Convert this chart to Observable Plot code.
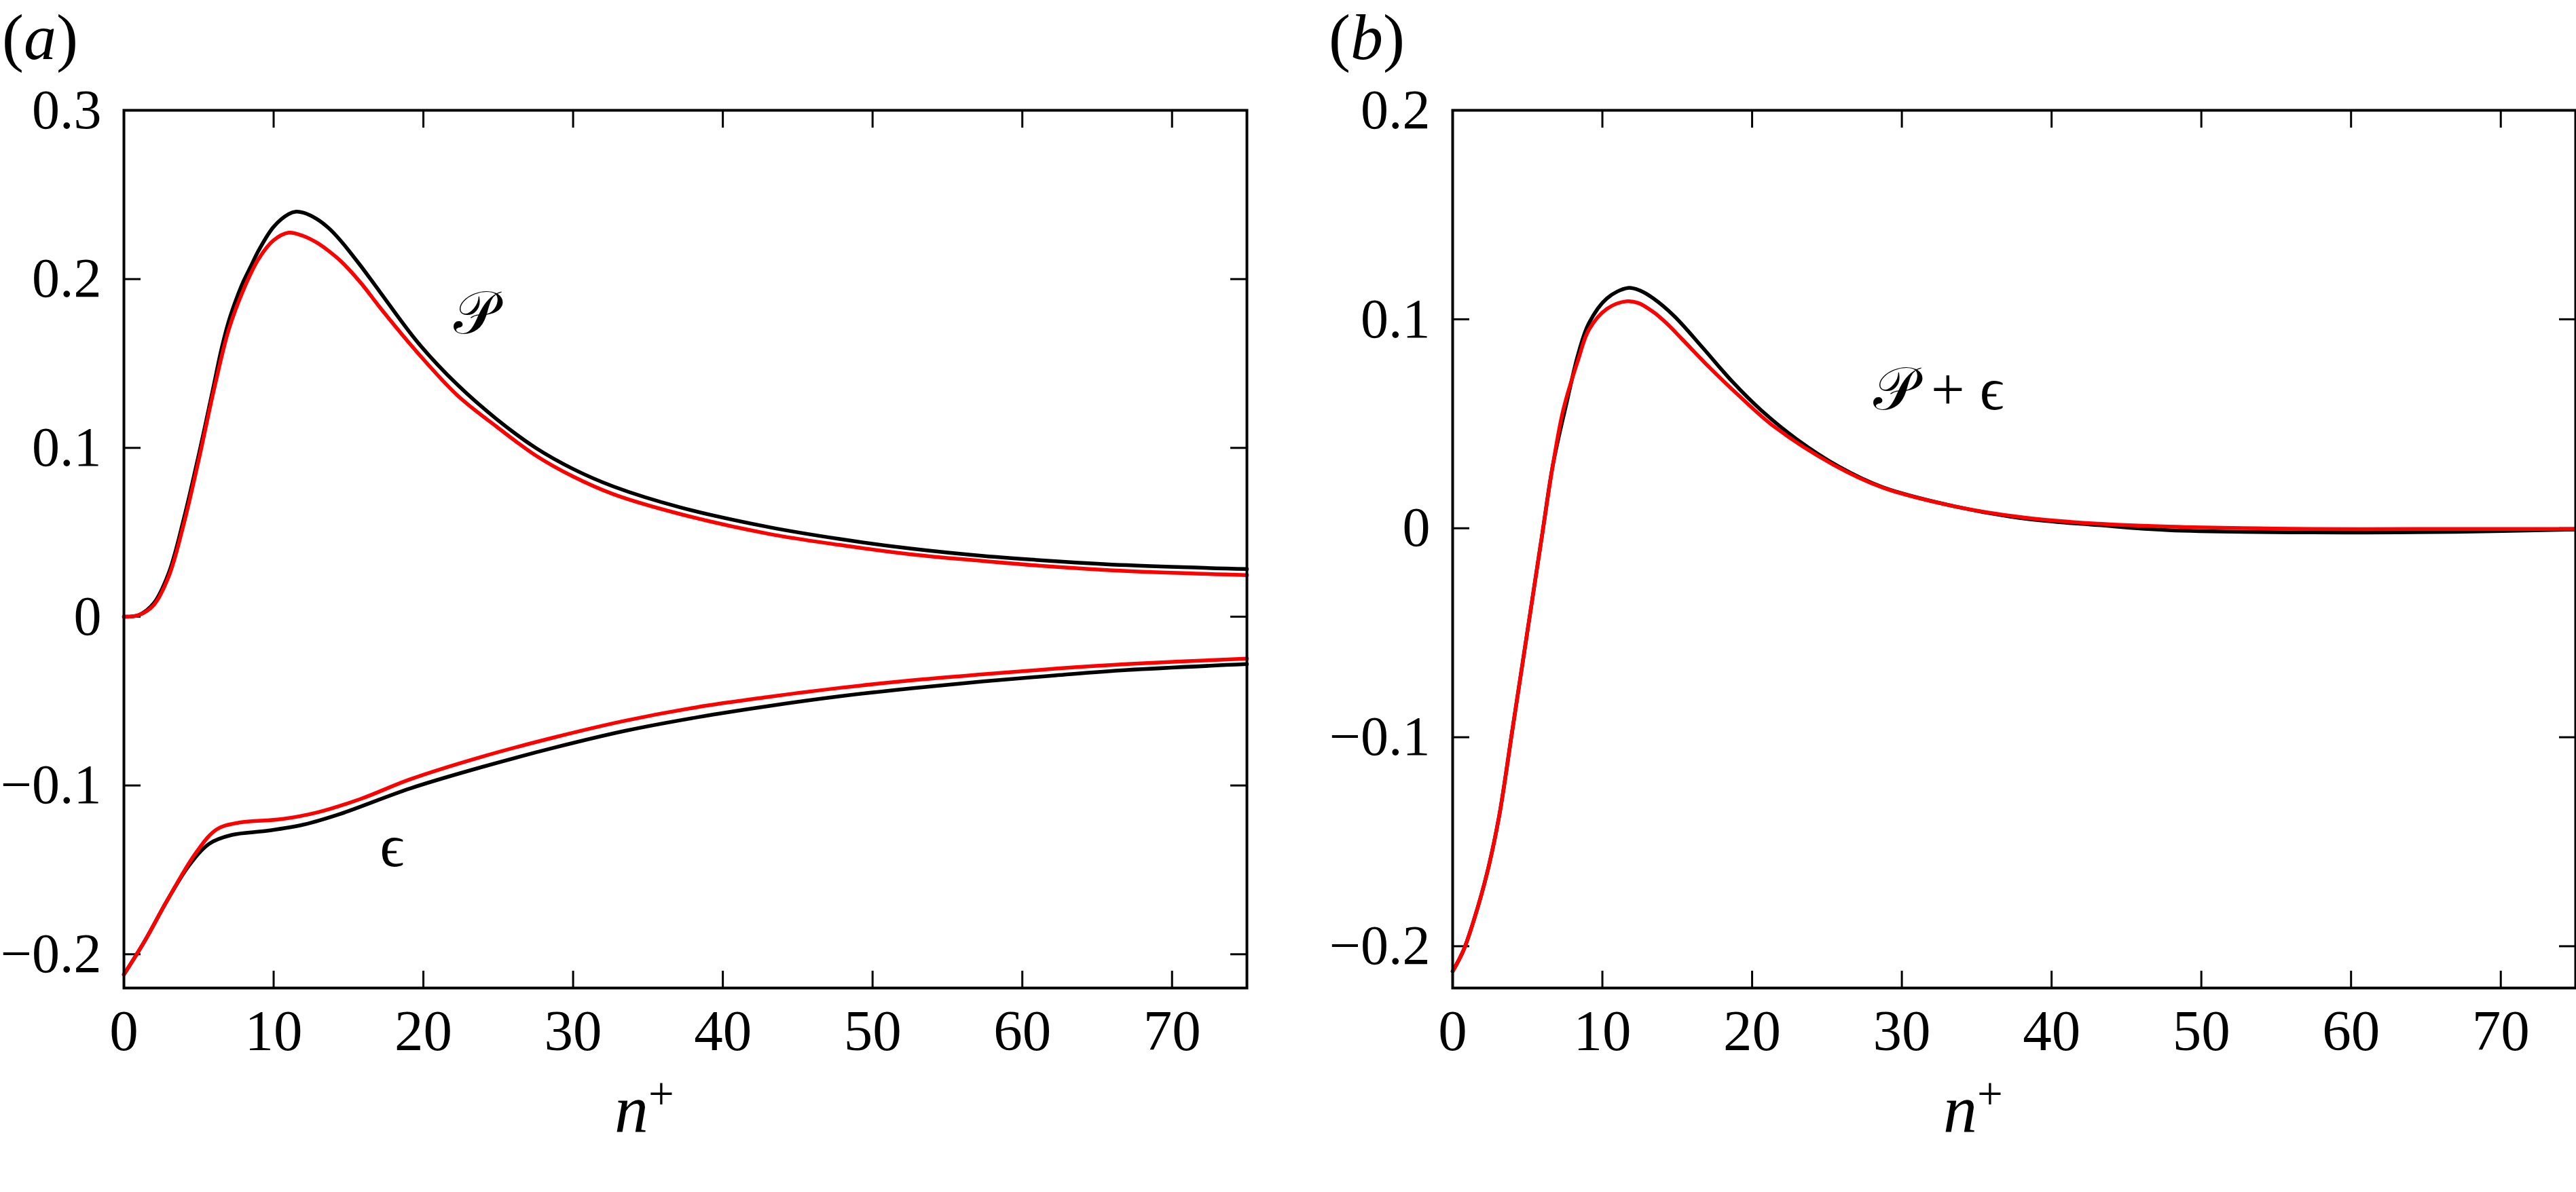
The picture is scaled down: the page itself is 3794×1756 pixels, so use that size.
<!DOCTYPE html>
<html>
<head>
<meta charset="utf-8">
<script src="https://cdn.jsdelivr.net/npm/d3@7"></script>
<script src="https://cdn.jsdelivr.net/npm/@observablehq/plot@0.6"></script>
<style>
  html, body { margin: 0; padding: 0; background: #fff; }
  #fig { position: relative; width: 3794px; height: 1756px; background: #fff; overflow: hidden; }
  #fig svg { position: absolute; top: 0; }
</style>
</head>
<body>
<div id="fig"></div>
<script>
// ---------- data ----------
const xTicks = [0, 10, 20, 30, 40, 50, 60, 70];
const xTickLabels = ["0", "10", "20", "30", "40", "50", "60", "70"];
const yTicksA = [-0.2, -0.1, 0, 0.1, 0.2, 0.3];
const yTickLabelsA = ["\u22120.2", "\u22120.1", "0", "0.1", "0.2", "0.3"];
const yTicksB = [-0.2, -0.1, 0, 0.1, 0.2];
const yTickLabelsB = ["\u22120.2", "\u22120.1", "0", "0.1", "0.2"];

// panel (a): production P
const prodBlack = [[0,0],[1,0.001],[2,0.008],[3,0.026],[4,0.058],[5,0.096],[6,0.137],[6.5,0.158],[7,0.175],[7.5,0.188],[8,0.199],[8.5,0.208],[9,0.217],[10,0.231],[11,0.2385],[11.5,0.240],[12,0.2393],[12.9,0.2355],[13.7,0.230],[14.5,0.2225],[15.8,0.208],[17.1,0.1924],[19.7,0.1617],[22.3,0.1372],[24.9,0.117],[27.5,0.100],[30,0.0875],[32.7,0.0771],[37.1,0.0649],[43.1,0.053],[47.8,0.046],[52.6,0.0403],[57.4,0.036],[62.2,0.0329],[67,0.0305],[75,0.0282]];
const prodRed = [[0,0],[1,0.001],[2,0.007],[3,0.024],[4,0.055],[5,0.093],[6,0.134],[7,0.170],[8,0.194],[9,0.212],[10,0.223],[11,0.2275],[12,0.2255],[12.9,0.2215],[13.7,0.2165],[14.5,0.2105],[15.8,0.198],[17.1,0.1832],[19.7,0.1555],[22.3,0.1309],[24.9,0.1125],[27.5,0.0955],[30,0.083],[32.7,0.0725],[37.1,0.0609],[43.1,0.049],[47.8,0.0425],[52.6,0.0369],[57.4,0.033],[62.2,0.0295],[67,0.027],[75,0.0246]];
// panel (a): dissipation epsilon
const dissBlack = [[0,-0.212],[1.4,-0.192],[2.9,-0.168],[4.3,-0.148],[5.7,-0.1345],[7.2,-0.1293],[9.6,-0.1268],[12,-0.1232],[14.4,-0.117],[19.1,-0.1018],[23.9,-0.0891],[28.7,-0.0777],[33.5,-0.0676],[38.3,-0.0596],[43.1,-0.0529],[47.8,-0.0472],[52.6,-0.0424],[57.4,-0.0383],[62.2,-0.0348],[67,-0.0316],[75,-0.0281]];
const dissRed = [[0,-0.212],[1.4,-0.192],[2.9,-0.168],[4.8,-0.140],[6.2,-0.126],[7.7,-0.122],[10.5,-0.120],[12.9,-0.116],[15.8,-0.108],[19.1,-0.0964],[23.9,-0.083],[28.7,-0.0716],[33.5,-0.0616],[38.3,-0.0536],[43.1,-0.0475],[47.8,-0.0422],[52.6,-0.0377],[57.4,-0.0341],[62.2,-0.0308],[67,-0.0281],[75,-0.0248]];
// panel (b): P + epsilon
const sumBlack = [[0,-0.212],[0.72,-0.202],[1.44,-0.187],[2.3,-0.165],[3.1,-0.138],[4,-0.096],[5,-0.049],[6,-0.002],[6.7,0.0305],[7.66,0.0615],[8.37,0.083],[9.09,0.098],[10.3,0.110],[11.7,0.115],[12.5,0.1138],[13.4,0.110],[14.8,0.1015],[16.7,0.0864],[18.7,0.070],[20.6,0.0565],[23.0,0.0425],[25.8,0.0295],[28.7,0.0197],[33.5,0.0105],[38.3,0.0045],[43.1,0.0015],[47.8,-0.0009],[57.4,-0.002],[67,-0.0017],[75,-0.0006]];
const sumRed = [[0,-0.212],[0.72,-0.202],[1.44,-0.187],[2.3,-0.165],[3.1,-0.138],[4,-0.096],[5,-0.049],[6,-0.002],[6.7,0.0305],[7.4,0.057],[8.4,0.081],[9.1,0.095],[10.3,0.105],[11.6,0.1086],[12.4,0.1078],[13.4,0.1035],[14.3,0.098],[15.3,0.0907],[17.2,0.0766],[19.1,0.0636],[21.5,0.0485],[25.4,0.0305],[28.7,0.0195],[33.5,0.0105],[38.3,0.005],[43.1,0.0022],[47.8,0.0008],[57.4,-0.0003],[67,-0.0003],[75,-0.0003]];

// ---------- drawing ----------
const FONT = "'Liberation Serif', 'DejaVu Serif', serif";
const LINE_W = 5.5;

function panel({width, marginLeft, marginRight, yDomain, yTicks, yLabels, series, notes}) {
  const lineMarks = [];
  for (const [data, color] of series) {
    lineMarks.push(Plot.line(data, {x: d => d[0], y: d => d[1], stroke: color, strokeWidth: LINE_W, curve: "catmull-rom"}));
  }
  return Plot.plot({
    width, height: 1756,
    marginLeft, marginRight, marginTop: 162, marginBottom: 301,
    style: {fontFamily: FONT, fontSize: "85px", background: "transparent", overflow: "visible", color: "#000"},
    x: {domain: [0, 75]},
    y: {domain: yDomain},
    marks: [
      Plot.axisX({anchor: "bottom", ticks: xTicks, tickSize: -25, tickPadding: 56, strokeWidth: 3,
        tickFormat: d => xTickLabels[xTicks.indexOf(d)], fontSize: 85, label: null}),
      Plot.axisX({anchor: "top", ticks: xTicks, tickSize: -25, strokeWidth: 3, tickFormat: () => "", label: null}),
      Plot.axisY({anchor: "left", ticks: yTicks, tickSize: -25, tickPadding: 58, strokeWidth: 3,
        tickFormat: d => yLabels[yTicks.indexOf(d)], fontSize: 82, label: null}),
      Plot.axisY({anchor: "right", ticks: yTicks, tickSize: -25, strokeWidth: 3, tickFormat: () => "", label: null}),
      ...lineMarks,
      ...notes.map(n => Plot.text([n], {x: d => d.x, y: d => d.y, text: d => d.t, fontSize: 88,
        fontFamily: FONT, lineAnchor: "middle", textAnchor: "middle", fill: "#000"})),
      Plot.frame({stroke: "#000", strokeWidth: 4})
    ]
  });
}

function addLabels(svg, letter, letterX, nX) {
  const s = d3.select(svg);
  const t = s.append("text").attr("x", letterX).attr("y", 87).attr("text-anchor", "start")
    .attr("font-family", FONT).attr("font-size", 96).attr("fill", "#000");
  t.append("tspan").text("(");
  t.append("tspan").attr("font-style", "italic").text(letter);
  t.append("tspan").text(")");
  const l = s.append("text").attr("x", nX).attr("y", 1667).attr("text-anchor", "start")
    .attr("font-family", FONT).attr("font-size", 100).attr("fill", "#000");
  l.append("tspan").attr("font-style", "italic").text("n");
  l.append("tspan").attr("font-size", 67).attr("dy", -33).text("+");
}

const fig = document.getElementById("fig");

const svgA = panel({
  width: 1900, marginLeft: 182, marginRight: 64,
  yDomain: [-0.22, 0.3], yTicks: yTicksA, yLabels: yTickLabelsA,
  series: [[prodBlack, "#000"], [prodRed, "#ff0000"], [dissBlack, "#000"], [dissRed, "#ff0000"]],
  notes: [{x: 23.45, y: 0.1794, t: "\u{1D4AB}"}, {x: 17.9, y: -0.1365, t: "\u03F5"}]
});
svgA.style.left = "0px";
addLabels(svgA, "a", 3, 905);
fig.appendChild(svgA);

const svgB = panel({
  width: 1894, marginLeft: 239, marginRight: 1,
  yDomain: [-0.22, 0.2], yTicks: yTicksB, yLabels: yTickLabelsB,
  series: [[sumBlack, "#000"], [sumRed, "#ff0000"]],
  notes: [{x: 32.45, y: 0.066, t: "\u{1D4AB} + \u03F5"}]
});
svgB.style.left = "1900px";
addLabels(svgB, "b", 57, 962);
fig.appendChild(svgB);
</script>
</body>
</html>
